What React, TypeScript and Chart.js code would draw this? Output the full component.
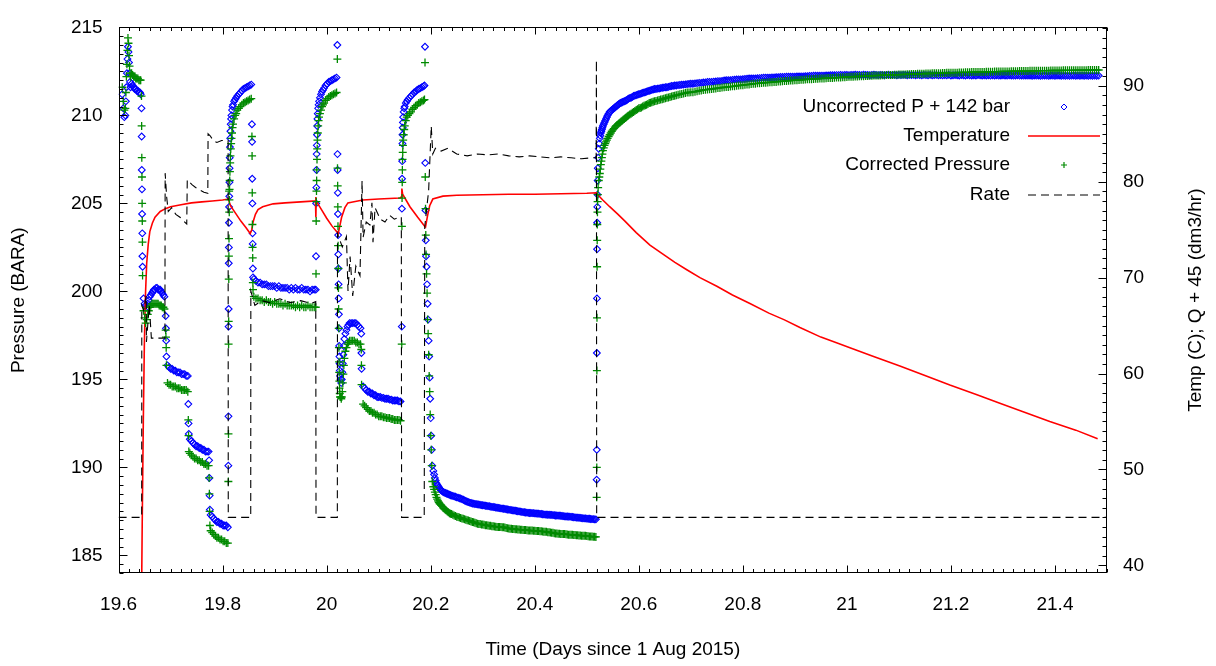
import React, { useEffect, useRef } from "react";
import { Chart, registerables } from "chart.js";

Chart.register(...registerables);

const FONT = "'Liberation Sans', Arial, Helvetica, sans-serif";

// Axis tick labels
const xTicks = [19.6, 19.8, 20, 20.2, 20.4, 20.6, 20.8, 21, 21.2, 21.4];
const pTicks = [185, 190, 195, 200, 205, 210, 215];
const tTicks = [40, 50, 60, 70, 80, 90];

const xTitle = "Time (Days since 1 Aug 2015)";
const yTitle = "Pressure (BARA)";
const y2Title = "Temp (C); Q + 45 (dm3/hr)";
const legendLabels = ["Uncorrected P + 142 bar", "Temperature", "Corrected Pressure", "Rate"];

// Pressure gauge samples (days) with uncorrected and corrected pressures (bar)
const pTime = [
  19.607, 19.609, 19.611, 19.613, 19.614, 19.615, 19.616, 19.617, 19.618, 19.619, 19.620, 19.621, 19.622, 19.623, 19.625, 19.627, 19.629, 19.631, 19.633, 19.635, 19.637, 19.639, 19.641, 19.6425,
  19.6440, 19.6443, 19.6446, 19.6449, 19.6452, 19.6455, 19.6458, 19.6461,
  19.648, 19.650, 19.652, 19.654, 19.656, 19.658, 19.660, 19.662, 19.664, 19.666, 19.668, 19.670, 19.672, 19.674, 19.676, 19.678, 19.680, 19.682, 19.684, 19.686, 19.688,
  19.6905, 19.6910, 19.6915, 19.6920,
  19.694, 19.697, 19.700, 19.703, 19.706, 19.709, 19.712, 19.715, 19.718, 19.721, 19.724, 19.727, 19.730, 19.733,
  19.7340, 19.7345, 19.7350,
  19.737, 19.740, 19.743, 19.746, 19.749, 19.752, 19.755, 19.758, 19.761, 19.764, 19.767, 19.770, 19.773,
  19.7740, 19.7745, 19.7750, 19.7755,
  19.777, 19.780, 19.783, 19.786, 19.789, 19.792, 19.795, 19.798, 19.801, 19.804, 19.807, 19.810,
  19.8110, 19.8112, 19.8114, 19.8116, 19.8118, 19.8120, 19.8122, 19.8124,
  19.8127, 19.8130, 19.8133, 19.8136, 19.8140, 19.8145, 19.8150, 19.8156, 19.8163, 19.8170, 19.818, 19.819, 19.820, 19.822, 19.824, 19.826, 19.828, 19.831, 19.834, 19.837, 19.840, 19.843, 19.846, 19.849, 19.852, 19.855,
  19.8563, 19.8566, 19.8569, 19.8572, 19.8575, 19.8578, 19.8581, 19.8584,
  19.860, 19.864, 19.868, 19.872, 19.876, 19.880, 19.884, 19.888, 19.892, 19.896, 19.900, 19.904, 19.908, 19.912, 19.916, 19.920, 19.924, 19.928, 19.932, 19.936, 19.940, 19.944, 19.948, 19.952, 19.956, 19.960, 19.964, 19.968, 19.972, 19.976, 19.979,
  19.9795, 19.9798, 19.9801, 19.9804, 19.9807, 19.9810, 19.9814, 19.9818, 19.9823, 19.9829, 19.9836, 19.9844, 19.9853, 19.987, 19.989, 19.991, 19.993, 19.995, 19.998, 20.001, 20.004, 20.007, 20.010, 20.013, 20.016, 20.019,
  20.0205, 20.0208, 20.0211, 20.0214, 20.0217, 20.0220, 20.0223, 20.0226, 20.0229, 20.0232, 20.0235, 20.0238, 20.0241, 20.0244, 20.0247, 20.0252, 20.0258,
  20.027, 20.028, 20.029, 20.030, 20.031, 20.032, 20.033, 20.034, 20.036, 20.038, 20.040, 20.042, 20.044, 20.047, 20.050, 20.053, 20.056, 20.059, 20.062, 20.065,
  20.0665, 20.0668, 20.0671,
  20.070, 20.073, 20.076, 20.079, 20.082, 20.085, 20.088, 20.091, 20.094, 20.097, 20.100, 20.103, 20.106, 20.109, 20.112, 20.115, 20.118, 20.121, 20.124, 20.127, 20.130, 20.133, 20.136, 20.139, 20.142,
  20.1443, 20.1446, 20.1449, 20.1452, 20.1455, 20.1458, 20.1462, 20.1466, 20.147, 20.148, 20.149, 20.150, 20.152, 20.154, 20.156, 20.159, 20.162, 20.165, 20.168, 20.171, 20.174, 20.177, 20.180, 20.183, 20.186, 20.188,
  20.1890, 20.1895, 20.1900, 20.1905, 20.1910, 20.1920, 20.1930, 20.1940, 20.1950, 20.1960, 20.1970, 20.1980, 20.1990, 20.2000, 20.2010, 20.2020, 20.2030,
  20.205, 20.2065, 20.208, 20.2095, 20.211, 20.2125, 20.214, 20.2155, 20.217, 20.2185, 20.220, 20.222, 20.224, 20.226, 20.228, 20.230, 20.232, 20.234, 20.236, 20.238, 20.240,
  20.2425, 20.2450, 20.2475, 20.2500, 20.2525, 20.2550, 20.2575, 20.2600,
  20.2625, 20.2650, 20.2675, 20.2700, 20.2725, 20.2750, 20.2775, 20.2800,
  20.2825, 20.2850, 20.2875, 20.2900, 20.2925, 20.2950, 20.2975, 20.3000,
  20.3025, 20.3050, 20.3075, 20.3100, 20.3125, 20.3150, 20.3175, 20.3200,
  20.3225, 20.3250, 20.3275, 20.3300, 20.3325, 20.3350, 20.3375, 20.3400,
  20.3425, 20.3450, 20.3475, 20.3500, 20.3525, 20.3550, 20.3575, 20.3600,
  20.3625, 20.3650, 20.3675, 20.3700, 20.3725, 20.3750, 20.3775, 20.3800,
  20.3825, 20.3850, 20.3875, 20.3900, 20.3925, 20.3950, 20.3975, 20.4000,
  20.4025, 20.4050, 20.4075, 20.4100, 20.4125, 20.4150, 20.4175, 20.4200,
  20.4225, 20.4250, 20.4275, 20.4300, 20.4325, 20.4350, 20.4375, 20.4400,
  20.4425, 20.4450, 20.4475, 20.4500, 20.4525, 20.4550, 20.4575, 20.4600,
  20.4625, 20.4650, 20.4675, 20.4700, 20.4725, 20.4750, 20.4775, 20.4800,
  20.4825, 20.4850, 20.4875, 20.4900, 20.4925, 20.4950, 20.4975, 20.5000,
  20.5025, 20.5050, 20.5075, 20.5100, 20.5125, 20.5150, 20.5175,
  20.5190, 20.5192, 20.5194, 20.5196, 20.5198, 20.5200, 20.5202, 20.5205, 20.5208, 20.5212,
  20.5218, 20.5230, 20.5240, 20.5250, 20.5260, 20.5270, 20.5280, 20.5290, 20.5300, 20.5310,
  20.5325, 20.5340, 20.5355, 20.5370, 20.5385, 20.5400, 20.5420, 20.5440, 20.5460, 20.5480,
  20.5500, 20.5520, 20.5540, 20.5560, 20.5580, 20.5600, 20.5620, 20.5640, 20.5660, 20.5680,
  20.5700, 20.5720, 20.5740, 20.5760, 20.5780, 20.5800, 20.5825, 20.5850, 20.5875, 20.5900,
  20.5925, 20.5950, 20.5975, 20.6000, 20.6025, 20.6050, 20.6075, 20.6100, 20.6125, 20.6150,
  20.6175, 20.6200, 20.6225, 20.6250, 20.6275, 20.6300, 20.6330, 20.6360, 20.6390, 20.6420,
  20.6450, 20.6480, 20.6510, 20.6540, 20.6570, 20.6600, 20.6630, 20.6660, 20.6690, 20.6720,
  20.6755, 20.6790, 20.6825, 20.6860, 20.6895, 20.6930, 20.6965, 20.7000,
  20.704, 20.708, 20.712, 20.716, 20.720, 20.724, 20.728, 20.732, 20.736, 20.740,
  20.744, 20.748, 20.752, 20.756, 20.760, 20.764, 20.768, 20.772, 20.776, 20.780,
  20.784, 20.788, 20.792, 20.796, 20.800, 20.804, 20.808, 20.812, 20.816, 20.820,
  20.824, 20.828, 20.832, 20.836, 20.840, 20.844, 20.848, 20.852, 20.856, 20.860,
  20.864, 20.868, 20.872, 20.876, 20.880, 20.884, 20.888, 20.892, 20.896, 20.900,
  20.904, 20.908, 20.912, 20.916, 20.920, 20.924, 20.928, 20.932, 20.936, 20.940,
  20.944, 20.948, 20.952, 20.956, 20.960, 20.964, 20.968, 20.972, 20.976, 20.980,
  20.984, 20.988, 20.992, 20.996, 21.000, 21.004, 21.008, 21.012, 21.016, 21.020,
  21.024, 21.028, 21.032, 21.036, 21.040, 21.044, 21.048, 21.052, 21.056, 21.060,
  21.064, 21.068, 21.072, 21.076, 21.080, 21.084, 21.088, 21.092, 21.096, 21.100,
  21.104, 21.108, 21.112, 21.116, 21.120, 21.124, 21.128, 21.132, 21.136, 21.140,
  21.144, 21.148, 21.152, 21.156, 21.160, 21.164, 21.168, 21.172, 21.176, 21.180,
  21.184, 21.188, 21.192, 21.196, 21.200, 21.204, 21.208, 21.212, 21.216, 21.220,
  21.224, 21.228, 21.232, 21.236, 21.240, 21.244, 21.248, 21.252, 21.256, 21.260,
  21.264, 21.268, 21.272, 21.276, 21.280, 21.284, 21.288, 21.292, 21.296, 21.300,
  21.304, 21.308, 21.312, 21.316, 21.320, 21.324, 21.328, 21.332, 21.336, 21.340,
  21.344, 21.348, 21.352, 21.356, 21.360, 21.364, 21.368, 21.372, 21.376, 21.380,
  21.384, 21.388, 21.392, 21.396, 21.400, 21.404, 21.408, 21.412, 21.416, 21.420,
  21.424, 21.428, 21.432, 21.436, 21.440, 21.444, 21.448, 21.452, 21.456, 21.460,
  21.464, 21.468, 21.472, 21.476, 21.480, 21.484,
];

const pUncorrected = [
  211.2, 210.4, 209.9, 210.0, 210.8, 211.6, 212.4, 213.2, 213.9, 213.6, 213.0, 212.4, 211.9, 211.6, 211.8, 211.7, 211.6, 211.5, 211.5, 211.4, 211.4, 211.3, 211.3, 211.2,
  210.4, 208.8, 206.9, 205.8, 204.4, 203.3, 202.0, 201.4,
  199.6, 199.3, 199.2, 199.1, 199.3, 199.5, 199.7, 199.8, 199.9, 200.0, 200.1, 200.1, 200.2, 200.2, 200.1, 200.1, 200.1, 200.0, 199.9, 199.8, 199.7,
  198.6, 197.9, 197.2, 196.3,
  195.8, 195.7, 195.6, 195.6, 195.5, 195.5, 195.4, 195.4, 195.4, 195.3, 195.3, 195.3, 195.2, 195.2,
  193.6, 192.5, 191.9,
  191.6, 191.5, 191.4, 191.3, 191.2, 191.2, 191.1, 191.1, 191.0, 191.0, 190.9, 190.9, 190.9,
  190.4, 189.4, 188.4, 187.6,
  187.3, 187.2, 187.1, 187.0, 186.9, 186.9, 186.8, 186.8, 186.7, 186.7, 186.7, 186.6,
  190.1, 192.9, 198.0, 199.0, 201.6, 202.5, 203.9, 204.8,
  205.4, 206.2, 207.0, 207.6, 208.2, 208.7, 209.1, 209.5, 209.8, 210.0, 210.3, 210.5, 210.6, 210.8, 210.9, 211.0, 211.1, 211.2, 211.3, 211.4, 211.5, 211.55, 211.6, 211.65, 211.7, 211.75,
  209.5, 208.5, 206.4, 205.0, 203.3, 202.7, 201.3, 200.8,
  200.7, 200.6, 200.5, 200.5, 200.4, 200.4, 200.4, 200.3, 200.3, 200.3, 200.3, 200.2, 200.3, 200.2, 200.2, 200.2, 200.2, 200.1, 200.2, 200.1, 200.2, 200.1, 200.1, 200.2, 200.1, 200.1, 200.1, 200.0, 200.1, 200.1, 200.1,
  202.0, 205.0, 205.9, 206.9, 207.8, 208.3, 208.9, 209.4, 209.8, 210.1, 210.4, 210.6, 210.8, 211.0, 211.2, 211.35, 211.45, 211.55, 211.7, 211.8, 211.9, 211.95, 212.0, 212.05, 212.1, 212.15,
  214.0, 207.8, 206.9, 205.6, 204.4, 203.2, 202.1, 201.3, 200.4, 199.6, 198.7, 197.9, 196.9, 196.3, 195.9, 195.5, 195.2,
  195.0, 194.8, 195.0, 195.4, 195.9, 196.4, 196.9, 197.3, 197.6, 197.8, 198.0, 198.1, 198.2, 198.2, 198.2, 198.2, 198.2, 198.1, 198.0, 197.9,
  197.6, 196.5, 195.6,
  194.6, 194.5, 194.4, 194.3, 194.3, 194.2, 194.2, 194.1, 194.1, 194.0, 194.0, 194.0, 193.95, 193.95, 193.9, 193.9, 193.9, 193.85, 193.85, 193.8, 193.8, 193.8, 193.8, 193.75, 193.75,
  198.0, 204.7, 206.4, 207.4, 208.4, 208.9, 209.3, 209.6, 209.9, 210.2, 210.4, 210.5, 210.7, 210.8, 210.9, 211.0, 211.1, 211.2, 211.3, 211.35, 211.45, 211.5, 211.55, 211.6, 211.65, 211.7,
  213.9, 207.3, 204.6, 202.9, 202.0, 201.4, 200.4, 199.3, 198.4, 197.2, 196.3, 195.1, 193.9, 192.8, 191.8, 191.0, 190.1,
  189.8, 189.6, 189.4, 189.25, 189.1, 189.02, 188.95, 188.88, 188.8, 188.75, 188.7, 188.65, 188.6, 188.57, 188.55, 188.52, 188.5, 188.47, 188.45, 188.42, 188.4,
  188.38, 188.35, 188.33, 188.30, 188.28, 188.25, 188.23, 188.20,
  188.16, 188.12, 188.09, 188.05, 188.03, 188.00, 187.98, 187.95,
  187.94, 187.92, 187.91, 187.90, 187.89, 187.87, 187.86, 187.85,
  187.84, 187.82, 187.81, 187.80, 187.79, 187.77, 187.76, 187.75,
  187.74, 187.72, 187.71, 187.70, 187.69, 187.67, 187.66, 187.65,
  187.64, 187.62, 187.61, 187.60, 187.59, 187.57, 187.56, 187.55,
  187.54, 187.52, 187.51, 187.50, 187.49, 187.47, 187.46, 187.45,
  187.44, 187.43, 187.42, 187.41, 187.41, 187.40, 187.40, 187.39,
  187.38, 187.37, 187.37, 187.36, 187.35, 187.34, 187.33, 187.32,
  187.32, 187.31, 187.31, 187.30, 187.30, 187.29, 187.28, 187.27,
  187.27, 187.26, 187.26, 187.25, 187.24, 187.23, 187.22, 187.21,
  187.21, 187.20, 187.20, 187.19, 187.18, 187.17, 187.16, 187.15,
  187.15, 187.14, 187.13, 187.12, 187.11, 187.10, 187.10, 187.09,
  187.08, 187.08, 187.07, 187.06, 187.06, 187.05, 187.05,
  189.3, 191.0, 196.5, 199.6, 202.4, 203.9, 204.8, 205.5, 206.3, 207.0,
  207.6, 208.1, 208.4, 208.7, 208.85, 209.0, 209.1, 209.2, 209.3, 209.4,
  209.5, 209.6, 209.7, 209.8, 209.9, 210.0, 210.1, 210.2, 210.25, 210.3,
  210.35, 210.4, 210.45, 210.5, 210.55, 210.6, 210.65, 210.7, 210.72, 210.75,
  210.78, 210.8, 210.83, 210.85, 210.9, 210.95, 210.98, 211.0, 211.05, 211.1,
  211.12, 211.15, 211.18, 211.2, 211.22, 211.25, 211.28, 211.3, 211.32, 211.35,
  211.38, 211.4, 211.42, 211.45, 211.47, 211.5, 211.5, 211.52, 211.53, 211.55,
  211.57, 211.58, 211.6, 211.6, 211.62, 211.65, 211.67, 211.68, 211.7, 211.7,
  211.72, 211.73, 211.74, 211.75, 211.76, 211.78, 211.79, 211.8,
  211.8, 211.82, 211.83, 211.85, 211.85, 211.87, 211.88, 211.9, 211.9, 211.9,
  211.92, 211.93, 211.95, 211.95, 211.96, 211.98, 212.0, 212.0, 212.0, 212.02,
  212.03, 212.04, 212.05, 212.05, 212.06, 212.07, 212.08, 212.1, 212.1, 212.1,
  212.1, 212.11, 212.12, 212.13, 212.14, 212.15, 212.15, 212.15, 212.16, 212.16,
  212.17, 212.17, 212.18, 212.18, 212.19, 212.2, 212.2, 212.2, 212.2, 212.2,
  212.21, 212.21, 212.22, 212.22, 212.23, 212.23, 212.24, 212.24, 212.25, 212.25,
  212.25, 212.25, 212.26, 212.26, 212.27, 212.27, 212.28, 212.28, 212.28, 212.29,
  212.29, 212.3, 212.29, 212.3, 212.3, 212.29, 212.3, 212.3, 212.31, 212.3,
  212.3, 212.29, 212.31, 212.3, 212.3, 212.28, 212.3, 212.31, 212.3, 212.29,
  212.3, 212.3, 212.28, 212.3, 212.31, 212.29, 212.3, 212.3, 212.28, 212.3,
  212.29, 212.3, 212.3, 212.28, 212.3, 212.29, 212.3, 212.28, 212.3, 212.29,
  212.28, 212.3, 212.29, 212.28, 212.3, 212.28, 212.29, 212.3, 212.28, 212.29,
  212.28, 212.29, 212.28, 212.3, 212.27, 212.28, 212.29, 212.28, 212.27, 212.29,
  212.28, 212.27, 212.29, 212.28, 212.27, 212.28, 212.27, 212.29, 212.28, 212.27,
  212.28, 212.27, 212.28, 212.26, 212.28, 212.27, 212.28, 212.26, 212.27, 212.28,
  212.27, 212.26, 212.28, 212.27, 212.26, 212.27, 212.28, 212.26, 212.27, 212.26,
  212.27, 212.26, 212.27, 212.25, 212.27, 212.26, 212.27, 212.25, 212.26, 212.27,
  212.26, 212.25, 212.27, 212.26, 212.25, 212.26, 212.27, 212.25, 212.26, 212.25,
  212.26, 212.25, 212.26, 212.27, 212.25, 212.26, 212.25, 212.26, 212.25, 212.26,
  212.25, 212.26, 212.25, 212.26, 212.25, 212.26,
];

const pCorrected = [
  211.6, 210.8, 210.3, 210.4, 211.3, 212.2, 212.9, 213.7, 214.4, 214.1, 213.4, 212.8, 212.4, 212.2, 212.4, 212.3, 212.2, 212.2, 212.1, 212.1, 212.1, 212.0, 212.0, 212.0,
  211.1, 209.4, 207.6, 206.5, 205.0, 204.0, 202.8, 200.9,
  198.9, 198.5, 198.2, 198.4, 198.7, 198.9, 199.1, 199.2, 199.3, 199.3, 199.3, 199.3, 199.3, 199.3, 199.3, 199.2, 199.2, 199.2, 199.1, 199.1, 199.0,
  197.8, 197.4, 196.8, 195.8,
  194.8, 194.7, 194.7, 194.6, 194.6, 194.6, 194.5, 194.5, 194.5, 194.4, 194.4, 194.4, 194.4, 194.3,
  192.7, 191.8, 190.9,
  190.8, 190.7, 190.6, 190.5, 190.5, 190.4, 190.4, 190.3, 190.3, 190.2, 190.2, 190.1, 190.1,
  189.4, 188.5, 187.5, 186.7,
  186.4, 186.3, 186.2, 186.1, 186.0, 186.0, 185.9, 185.9, 185.8, 185.8, 185.7, 185.7,
  189.2, 191.9, 197.0, 198.3, 200.7, 202.0, 203.0, 205.7,
  204.5, 205.2, 205.8, 206.3, 206.8, 207.3, 207.7, 208.1, 208.4, 208.7, 209.0, 209.3, 209.5, 209.8, 210.0, 210.1, 210.3, 210.4, 210.5, 210.6, 210.7, 210.75, 210.8, 210.85, 210.9, 210.95,
  208.8, 207.7, 205.6, 203.8, 202.5, 201.9, 200.5, 200.1,
  199.7, 199.6, 199.6, 199.5, 199.5, 199.4, 199.5, 199.4, 199.4, 199.3, 199.4, 199.3, 199.3, 199.3, 199.2, 199.3, 199.2, 199.2, 199.2, 199.2, 199.1, 199.2, 199.1, 199.2, 199.1, 199.1, 199.2, 199.1, 199.1, 199.1, 199.1,
  201.0, 204.0, 205.1, 205.7, 206.3, 206.9, 207.5, 208.1, 208.6, 209.0, 209.4, 209.7, 209.9, 210.1, 210.3, 210.5, 210.6, 210.7, 210.85, 210.95, 211.05, 211.1, 211.15, 211.2, 211.25, 211.3,
  213.2, 207.0, 206.0, 204.8, 203.7, 202.6, 201.3, 200.2, 199.0, 197.9, 196.8, 196.0, 195.4, 194.9, 194.5, 194.2, 194.0,
  194.0, 193.9, 194.0, 194.3, 194.8, 195.3, 195.8, 196.2, 196.6, 196.8, 197.0, 197.1, 197.2, 197.2, 197.2, 197.2, 197.1, 197.1, 197.0, 197.0,
  196.7, 195.8, 194.7,
  193.6, 193.5, 193.4, 193.3, 193.2, 193.2, 193.1, 193.1, 193.0, 193.0, 192.9, 192.9, 192.9, 192.85, 192.85, 192.8, 192.8, 192.8, 192.75, 192.75, 192.7, 192.7, 192.7, 192.7, 192.65,
  197.0, 203.7, 205.3, 206.2, 206.9, 207.5, 207.9, 208.3, 208.6, 208.9, 209.2, 209.4, 209.7, 209.9, 210.0, 210.1, 210.2, 210.35, 210.45, 210.55, 210.6, 210.7, 210.75, 210.8, 210.85, 210.9,
  213.0, 206.5, 204.7, 203.2, 202.1, 201.0, 199.9, 198.4, 197.6, 196.4, 195.2, 194.3, 193.0, 191.8, 191.0, 190.1, 189.2,
  188.9, 188.75, 188.6, 188.45, 188.3, 188.2, 188.1, 188.02, 187.95, 187.9, 187.85, 187.78, 187.7, 187.65, 187.6, 187.55, 187.5, 187.45, 187.4, 187.37, 187.35,
  187.31, 187.27, 187.24, 187.20, 187.18, 187.15, 187.13, 187.10,
  187.08, 187.05, 187.03, 187.00, 186.98, 186.95, 186.93, 186.90,
  186.88, 186.85, 186.83, 186.80, 186.79, 186.78, 186.76, 186.75,
  186.74, 186.72, 186.71, 186.70, 186.69, 186.68, 186.66, 186.65,
  186.64, 186.63, 186.62, 186.62, 186.61, 186.61, 186.60, 186.60,
  186.58, 186.56, 186.54, 186.53, 186.52, 186.51, 186.50, 186.50,
  186.49, 186.48, 186.47, 186.47, 186.46, 186.46, 186.45, 186.45,
  186.44, 186.43, 186.42, 186.42, 186.41, 186.41, 186.40, 186.40,
  186.39, 186.38, 186.38, 186.37, 186.37, 186.36, 186.35, 186.35,
  186.34, 186.32, 186.31, 186.30, 186.29, 186.28, 186.26, 186.25,
  186.24, 186.23, 186.23, 186.22, 186.22, 186.21, 186.21, 186.20,
  186.19, 186.18, 186.18, 186.17, 186.17, 186.16, 186.16, 186.15,
  186.14, 186.13, 186.13, 186.12, 186.12, 186.11, 186.11, 186.10,
  186.09, 186.08, 186.08, 186.07, 186.06, 186.06, 186.05,
  188.3, 190.0, 195.5, 198.5, 201.4, 202.9, 203.8, 204.5, 205.1, 205.5,
  205.9, 206.3, 206.5, 206.7, 206.95, 207.2, 207.4, 207.6, 207.8, 208.0,
  208.15, 208.3, 208.4, 208.5, 208.6, 208.7, 208.8, 208.9, 209.0, 209.1,
  209.18, 209.25, 209.33, 209.4, 209.45, 209.5, 209.55, 209.6, 209.65, 209.7,
  209.75, 209.8, 209.85, 209.9, 209.95, 210.0, 210.05, 210.1, 210.15, 210.2,
  210.25, 210.3, 210.35, 210.4, 210.42, 210.45, 210.5, 210.55, 210.58, 210.6,
  210.65, 210.7, 210.72, 210.75, 210.78, 210.8, 210.82, 210.85, 210.88, 210.9,
  210.92, 210.95, 210.98, 211.0, 211.02, 211.05, 211.08, 211.1, 211.12, 211.15,
  211.17, 211.2, 211.22, 211.25, 211.27, 211.3, 211.3, 211.32,
  211.32, 211.35, 211.37, 211.4, 211.42, 211.45, 211.46, 211.47, 211.49, 211.5,
  211.51, 211.53, 211.55, 211.56, 211.58, 211.6, 211.61, 211.62, 211.64, 211.65,
  211.66, 211.68, 211.7, 211.71, 211.72, 211.74, 211.75, 211.76, 211.78, 211.8,
  211.8, 211.82, 211.83, 211.84, 211.85, 211.86, 211.87, 211.88, 211.89, 211.9,
  211.9, 211.92, 211.93, 211.94, 211.95, 211.96, 211.97, 211.98, 211.99, 212.0,
  212.0, 212.01, 212.02, 212.03, 212.04, 212.05, 212.05, 212.06, 212.07, 212.08,
  212.08, 212.09, 212.1, 212.1, 212.11, 212.12, 212.13, 212.13, 212.14, 212.15,
  212.15, 212.16, 212.17, 212.17, 212.18, 212.19, 212.2, 212.2, 212.21, 212.21,
  212.22, 212.22, 212.23, 212.24, 212.24, 212.25, 212.25, 212.26, 212.26, 212.27,
  212.27, 212.28, 212.28, 212.29, 212.29, 212.3, 212.3, 212.31, 212.31, 212.32,
  212.32, 212.33, 212.33, 212.34, 212.34, 212.35, 212.35, 212.35, 212.36, 212.36,
  212.37, 212.37, 212.38, 212.38, 212.38, 212.39, 212.39, 212.4, 212.4, 212.4,
  212.41, 212.41, 212.42, 212.42, 212.42, 212.43, 212.43, 212.43, 212.44, 212.44,
  212.44, 212.45, 212.45, 212.45, 212.46, 212.46, 212.46, 212.47, 212.47, 212.47,
  212.47, 212.48, 212.48, 212.48, 212.48, 212.49, 212.49, 212.49, 212.5, 212.5,
  212.5, 212.5, 212.5, 212.51, 212.51, 212.51, 212.51, 212.52, 212.52, 212.52,
  212.52, 212.52, 212.53, 212.53, 212.53, 212.53, 212.53, 212.54, 212.54, 212.54,
  212.54, 212.54, 212.55, 212.55, 212.55, 212.55, 212.55, 212.55, 212.56, 212.56,
  212.56, 212.56, 212.56, 212.56, 212.57, 212.57, 212.57, 212.57, 212.57, 212.57,
  212.58, 212.58, 212.58, 212.58, 212.58, 212.58,
];

// Temperature (C), right axis
const tempTime = [
  19.6430, 19.6455, 19.6475, 19.6495, 19.6515, 19.6540, 19.6570, 19.6600, 19.6650, 19.6700,
  19.6800, 19.6900, 19.7000, 19.7200, 19.7400, 19.7600, 19.7800, 19.8000, 19.8110, 19.8150,
  19.8250, 19.8350, 19.8450, 19.8530, 19.8560, 19.8585, 19.8630, 19.8680, 19.8770, 19.8970,
  19.9200, 19.9500, 19.9785, 19.9790, 19.9794, 19.9798, 19.9900, 20.0000, 20.0100, 20.0222,
  20.0287, 20.0350, 20.0408, 20.0500, 20.0696, 20.1000, 20.1407, 20.1430, 20.1445, 20.1460,
  20.1600, 20.1750, 20.1880, 20.1900, 20.1940, 20.1980, 20.2040, 20.2234, 20.2500, 20.3000,
  20.3500, 20.4000, 20.4500, 20.5000, 20.5190, 20.5220, 20.5307, 20.5440, 20.5600, 20.5733,
  20.5950, 20.6214, 20.6450, 20.6694, 20.6930, 20.7175, 20.7500, 20.7800, 20.8136, 20.8500,
  20.8800, 20.9097, 20.9500, 20.9800, 21.0058, 21.0500, 21.1018, 21.1500, 21.1979, 21.2500,
  21.2940, 21.3400, 21.3900, 21.4400, 21.4820,
];
const tempValue = [
  30, 45, 55, 63, 68, 71.5, 73.5, 74.8, 75.7, 76.3,
  76.9, 77.2, 77.4, 77.6, 77.8, 77.9, 78.0, 78.1, 78.2, 77.5,
  76.7, 75.9, 75.2, 74.6, 75.0, 75.8, 76.6, 77.1, 77.4, 77.7,
  77.8, 77.9, 78.0, 78.4, 76.3, 78.0, 77.1, 76.2, 75.4, 74.6,
  76.3, 77.3, 77.8, 77.9, 78.1, 78.2, 78.3, 78.4, 79.3, 78.7,
  77.4, 76.3, 75.4, 75.3, 76.5, 77.5, 78.2, 78.5, 78.6, 78.65,
  78.7, 78.7, 78.75, 78.8, 78.85, 78.6, 78.1, 77.4, 76.6, 75.9,
  74.7, 73.4, 72.5, 71.6, 70.8, 70.0, 69.1, 68.2, 67.3, 66.3,
  65.6, 64.8, 63.8, 63.2, 62.7, 61.8, 60.8, 59.8, 58.8, 57.8,
  56.9, 56.0, 55.0, 54.1, 53.2,
];

// Rate, plotted as Q + 45 (dm3/hr), right axis
const rateTime = [
  19.600, 19.6444, 19.6446, 19.648, 19.653, 19.6535, 19.659, 19.663, 19.689, 19.6895,
  19.6924, 19.6955, 19.702, 19.710, 19.718, 19.725, 19.731, 19.732, 19.741, 19.748,
  19.754, 19.764, 19.7715, 19.7720, 19.776, 19.782, 19.789, 19.798, 19.8105, 19.8108,
  19.8540, 19.8542, 19.862, 19.875, 19.890, 19.910, 19.930, 19.950, 19.970, 19.979,
  19.9795, 20.0205, 20.0208, 20.030, 20.038, 20.041, 20.045, 20.050, 20.056, 20.064,
  20.068, 20.070, 20.076, 20.083, 20.087, 20.089, 20.093, 20.103, 20.112, 20.121,
  20.130, 20.140, 20.1435, 20.1440, 20.1875, 20.1885, 20.1960, 20.2010, 20.2040, 20.2090,
  20.220, 20.233, 20.250, 20.270, 20.290, 20.310, 20.330, 20.350, 20.370, 20.390,
  20.410, 20.430, 20.450, 20.470, 20.490, 20.510, 20.518, 20.5185, 20.5190, 21.500,
];
const rateValue = [
  45, 45, 67.1, 66.6, 68.1, 63.3, 67.1, 63.7, 63.7, 80.9,
  78.4, 76.9, 77.3, 76.6, 76.3, 75.9, 75.6, 80.2, 79.7, 79.4,
  79.2, 78.9, 78.8, 85.0, 84.8, 84.3, 84.1, 84.3, 84.3, 45,
  45, 68.6, 67.1, 67.6, 67.4, 67.8, 67.4, 67.6, 67.3, 67.5,
  45, 45, 74.6, 73.2, 74.3, 68.6, 72.2, 68.1, 71.2, 70.2,
  80.1, 74.2, 75.8, 75.5, 77.8, 73.7, 77.3, 76.1, 75.8, 76.5,
  76.1, 76.3, 76.3, 45, 45, 75.3, 79.1, 85.8, 82.9, 83.5,
  83.2, 83.5, 82.9, 82.7, 82.9, 82.8, 82.9, 82.7, 82.6, 82.7,
  82.6, 82.5, 82.6, 82.5, 82.4, 82.5, 82.5, 92.7, 45, 45,
];

const X_MIN = 19.6;
const X_MAX = 21.5;
const P_MIN = 184;
const P_MAX = 215;
const T_MIN = 39.2;
const T_MAX = 96.1;

const BLUE = "#0000ff";
const RED = "#ff0000";
const GREEN = "#008a00";

const crisp = (v: number) => Math.round(v) + 0.5;

const decorPlugin = {
  id: "decor",
  afterDatasetsDraw(chart: any) {
    const { ctx, chartArea: a, scales } = chart;
    const sx = scales.x;
    const sy = scales.y;
    const sy2 = scales.y2;
    ctx.save();
    ctx.strokeStyle = "#000";
    ctx.lineWidth = 1;
    ctx.setLineDash([]);
    ctx.beginPath();
    const L = Math.round(a.left) + 0.5;
    const R = Math.round(a.right) - 0.5;
    const T = Math.round(a.top) + 0.5;
    const B = Math.round(a.bottom) - 0.5;
    for (let i = 0; i <= 95; i++) {
      const v = X_MIN + i * 0.02;
      const px = crisp(sx.getPixelForValue(v));
      const len = i % 10 === 0 ? 7 : 3.5;
      ctx.moveTo(px, B);
      ctx.lineTo(px, B - len);
      ctx.moveTo(px, T);
      ctx.lineTo(px, T + len);
    }
    for (let i = 0; i <= 62; i++) {
      const v = P_MIN + i * 0.5;
      const py = crisp(sy.getPixelForValue(v));
      const len = Math.abs(v % 5) < 1e-6 ? 8 : 4;
      ctx.moveTo(L, py);
      ctx.lineTo(L + len, py);
    }
    for (let v = 40; v <= 96; v++) {
      const py = crisp(sy2.getPixelForValue(v));
      const len = v % 10 === 0 ? 8 : 4;
      ctx.moveTo(R, py);
      ctx.lineTo(R - len, py);
    }
    ctx.stroke();
    ctx.strokeRect(L, T, R - L, B - T);

    ctx.fillStyle = "#000";
    ctx.font = `19px ${FONT}`;
    ctx.textAlign = "center";
    ctx.textBaseline = "middle";
    ctx.fillText(xTitle, (a.left + a.right) / 2, 650);
    const midY = (a.top + a.bottom) / 2;
    ctx.save();
    ctx.translate(19, midY);
    ctx.rotate(-Math.PI / 2);
    ctx.fillText(yTitle, 0, 0);
    ctx.restore();
    ctx.save();
    ctx.translate(1196, midY);
    ctx.rotate(-Math.PI / 2);
    ctx.fillText(y2Title, 0, 0);
    ctx.restore();

    const rows = [107, 136, 165, 195];
    ctx.textAlign = "right";
    legendLabels.forEach((t, i) => ctx.fillText(t, 1010, rows[i]));
    const sx0 = 1028;
    const sx1 = 1100;
    const mid = (sx0 + sx1) / 2;
    ctx.strokeStyle = BLUE;
    ctx.lineWidth = 1;
    ctx.beginPath();
    const r = 3;
    ctx.moveTo(mid - r, rows[0]);
    ctx.lineTo(mid, rows[0] - r);
    ctx.lineTo(mid + r, rows[0]);
    ctx.lineTo(mid, rows[0] + r);
    ctx.closePath();
    ctx.stroke();
    ctx.strokeStyle = RED;
    ctx.lineWidth = 1.6;
    ctx.beginPath();
    ctx.moveTo(sx0, rows[1]);
    ctx.lineTo(sx1, rows[1]);
    ctx.stroke();
    ctx.strokeStyle = GREEN;
    ctx.lineWidth = 1.2;
    ctx.beginPath();
    ctx.moveTo(mid - 3, rows[2]);
    ctx.lineTo(mid + 3, rows[2]);
    ctx.moveTo(mid, rows[2] - 3);
    ctx.lineTo(mid, rows[2] + 3);
    ctx.stroke();
    ctx.strokeStyle = "#000";
    ctx.lineWidth = 1;
    ctx.setLineDash([8, 5]);
    ctx.beginPath();
    ctx.moveTo(sx0, rows[3]);
    ctx.lineTo(sx1, rows[3]);
    ctx.stroke();
    ctx.restore();
  },
};

export default function App() {
  const ref = useRef<HTMLCanvasElement>(null);
  useEffect(() => {
    const canvas = ref.current;
    if (!canvas) return;
    const n = Math.min(pTime.length, pUncorrected.length, pCorrected.length);
    const uncorr = [];
    const corr = [];
    for (let i = 0; i < n; i++) {
      uncorr.push({ x: pTime[i], y: pUncorrected[i] });
      corr.push({ x: pTime[i], y: pCorrected[i] });
    }
    const temp = tempTime.map((t, i) => ({ x: t, y: tempValue[i] }));
    const rate = rateTime.map((t, i) => ({ x: t, y: rateValue[i] }));
    const tickFont = { family: FONT, size: 19 };

    const chart = new Chart(canvas, {
      type: "scatter",
      data: {
        datasets: [
          {
            label: legendLabels[0],
            data: uncorr,
            yAxisID: "y",
            showLine: false,
            pointStyle: "rectRot",
            pointRadius: 3.4,
            pointBorderColor: BLUE,
            pointBackgroundColor: "rgba(0,0,0,0)",
            pointBorderWidth: 1.1,
            borderColor: BLUE,
            backgroundColor: "rgba(0,0,0,0)",
            order: 4,
          },
          {
            label: legendLabels[1],
            data: temp,
            yAxisID: "y2",
            showLine: true,
            pointRadius: 0,
            borderColor: RED,
            borderWidth: 1.6,
            tension: 0,
            order: 3,
          },
          {
            label: legendLabels[2],
            data: corr,
            yAxisID: "y",
            showLine: false,
            pointStyle: "cross",
            pointRadius: 4,
            pointBorderColor: GREEN,
            pointBackgroundColor: GREEN,
            pointBorderWidth: 1.3,
            borderColor: GREEN,
            order: 2,
          },
          {
            label: legendLabels[3],
            data: rate,
            yAxisID: "y2",
            showLine: true,
            pointRadius: 0,
            borderColor: "#000",
            borderWidth: 1.1,
            borderDash: [8, 5],
            tension: 0,
            order: 1,
          },
        ],
      },
      options: {
        responsive: false,
        animation: false,
        devicePixelRatio: 1,
        events: [],
        layout: { padding: { top: 16, left: 0, right: 0, bottom: 0 } },
        plugins: { legend: { display: false }, tooltip: { enabled: false }, title: { display: false } },
        scales: {
          x: {
            type: "linear",
            min: X_MIN,
            max: X_MAX,
            grid: { display: false, drawTicks: false },
            border: { display: false },
            ticks: {
              font: tickFont,
              color: "#000",
              padding: 20,
              maxRotation: 0,
              callback: (v: any) => String(Math.round(Number(v) * 10) / 10),
            },
            afterBuildTicks: (s: any) => {
              s.ticks = xTicks.map((v) => ({ value: v }));
            },
            afterFit: (s: any) => {
              s.height = 93;
            },
          },
          y: {
            type: "linear",
            position: "left",
            min: P_MIN,
            max: P_MAX,
            grid: { display: false, drawTicks: false },
            border: { display: false },
            ticks: { font: tickFont, color: "#000", padding: 16 },
            afterBuildTicks: (s: any) => {
              s.ticks = pTicks.map((v) => ({ value: v }));
            },
            afterFit: (s: any) => {
              s.width = 118.6;
            },
          },
          y2: {
            type: "linear",
            position: "right",
            min: T_MIN,
            max: T_MAX,
            grid: { display: false, drawTicks: false },
            border: { display: false },
            ticks: { font: tickFont, color: "#000", padding: 16 },
            afterBuildTicks: (s: any) => {
              s.ticks = tTicks.map((v) => ({ value: v }));
            },
            afterFit: (s: any) => {
              s.width = 109;
            },
          },
        },
      },
      plugins: [decorPlugin],
    } as any);
    return () => chart.destroy();
  }, []);

  return (
    <div style={{ position: "fixed", left: 0, top: 0, width: 1216, height: 666, background: "#fff" }}>
      <canvas ref={ref} width={1216} height={666} style={{ display: "block" }} />
    </div>
  );
}
